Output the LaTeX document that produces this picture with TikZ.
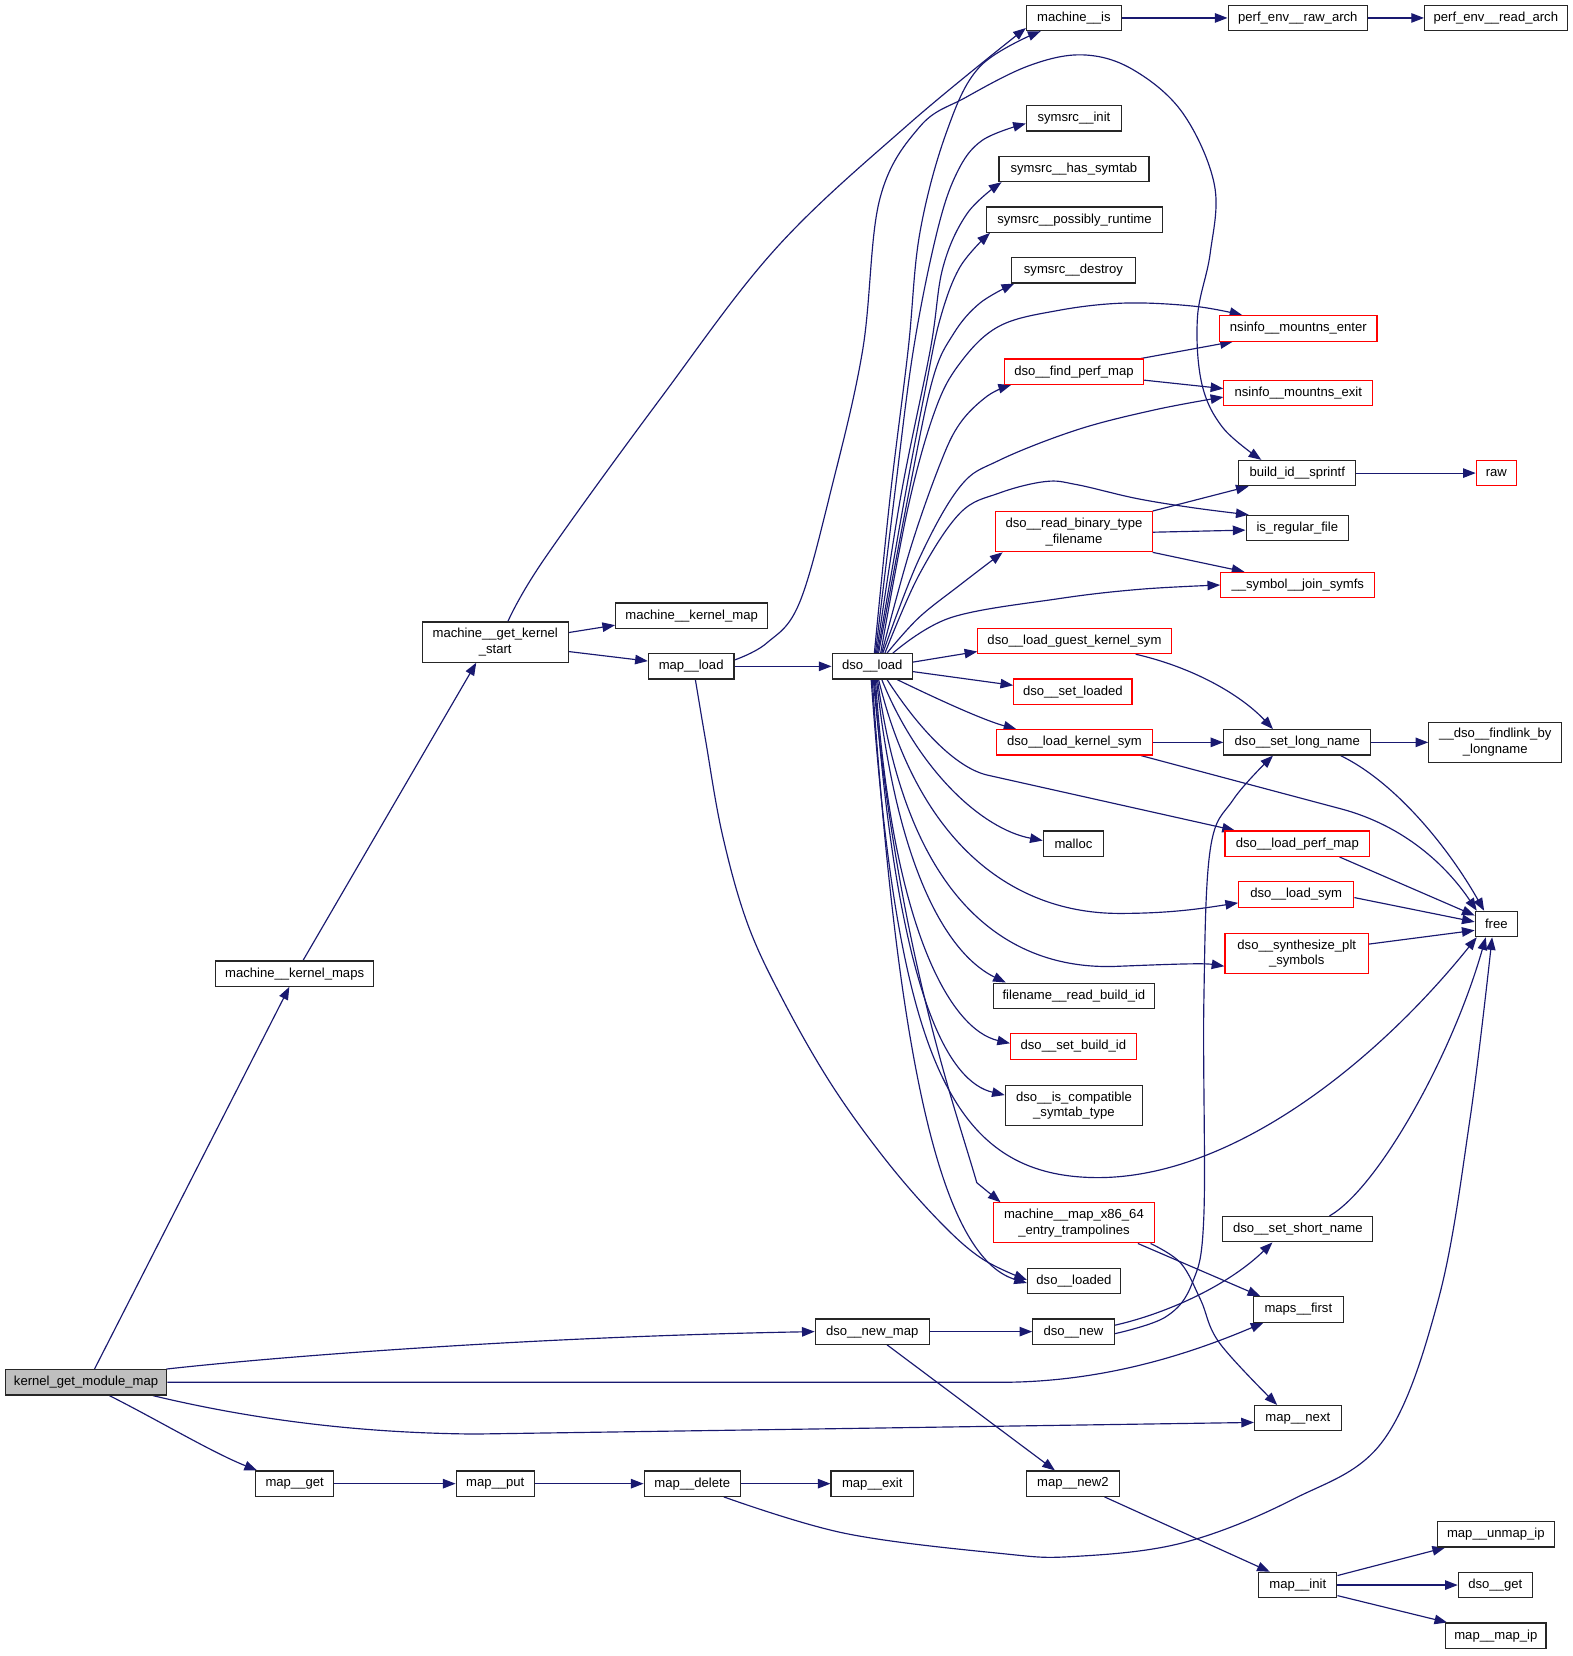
\documentclass[tikz,border=0pt]{standalone}
\usepackage{fontspec}
\setmainfont{Liberation Sans}
\usetikzlibrary{arrows.meta,calc,backgrounds}
\definecolor{edgecol}{HTML}{191970}
\definecolor{kgray}{HTML}{BFBFBF}
\begin{document}
\begin{tikzpicture}[x=1pt,y=-1pt,
  box/.style={draw=black!85,line width=1.1pt,fill=white,rectangle,inner sep=0pt,minimum height=24pt,align=center,font=\fontsize{12.4}{15}\selectfont},
  rbox/.style={box,draw=red},
  tall/.style={minimum height=38pt},
  call/.style={draw=edgecol,line width=1.1pt,-{Triangle[length=12pt,width=9pt]}}]
\useasboundingbox (0,0) rectangle (1489.6,1568.2);
% nodes
\node[box,minimum width=90pt] (mis) at (1017,17) {machine\_\_is};
\node[box,minimum width=132pt] (pera) at (1229,17) {perf\_env\_\_raw\_arch};
\node[box,minimum width=135pt] (perd) at (1416.5,17) {perf\_env\_\_read\_arch};
\node[box,minimum width=90pt] (sinit) at (1017,112) {symsrc\_\_init};
\node[box,minimum width=142pt] (shas) at (1017,160) {symsrc\_\_has\_symtab};
\node[box,minimum width=167pt] (sposs) at (1017.5,208) {symsrc\_\_possibly\_runtime};
\node[box,minimum width=117pt] (sdes) at (1016.5,256) {symsrc\_\_destroy};
\node[rbox,minimum width=149pt] (nsen) at (1229.5,311) {nsinfo\_\_mountns\_enter};
\node[rbox,minimum width=132pt] (dfpm) at (1017,352) {dso\_\_find\_perf\_map};
\node[rbox,minimum width=141pt] (nsex) at (1229.5,372) {nsinfo\_\_mountns\_exit};
\node[box,minimum width=111pt] (bid) at (1228.5,448) {build\_id\_\_sprintf};
\node[rbox,minimum width=38pt] (raw) at (1417,448) {raw};
\node[rbox,tall,minimum width=148pt] (drbtf) at (1017,503.5) {dso\_\_read\_binary\_type\\\_filename};
\node[box,minimum width=97pt] (irf) at (1228.5,500) {is\_regular\_file};
\node[rbox,minimum width=146pt] (sjs) at (1229,554) {\_\_symbol\_\_join\_symfs};
\node[box,minimum width=144pt] (mkmap) at (655,583) {machine\_\_kernel\_map};
\node[box,tall,minimum width=138pt] (mgks) at (469,608) {machine\_\_get\_kernel\\\_start};
\node[box,minimum width=81pt] (mload) at (654.5,631) {map\_\_load};
\node[box,minimum width=76pt] (dload) at (826,631) {dso\_\_load};
\node[rbox,minimum width=183pt] (dlgks) at (1017.5,607) {dso\_\_load\_guest\_kernel\_sym};
\node[rbox,minimum width=112pt] (dsl) at (1016,655) {dso\_\_set\_loaded};
\node[rbox,minimum width=147pt] (dlks) at (1017.5,703) {dso\_\_load\_kernel\_sym};
\node[box,minimum width=139pt] (dsln) at (1228.5,703) {dso\_\_set\_long\_name};
\node[box,tall,minimum width=126pt] (dfl) at (1416,703) {\_\_dso\_\_findlink\_by\\\_longname};
\node[box,minimum width=57pt] (malloc) at (1016.5,799) {malloc};
\node[rbox,minimum width=137pt] (dlpm) at (1228.5,799) {dso\_\_load\_perf\_map};
\node[rbox,minimum width=109pt] (dls) at (1227.5,847) {dso\_\_load\_sym};
\node[box,minimum width=40pt] (free) at (1417,875) {free};
\node[rbox,tall,minimum width=136pt] (dspl) at (1228,903) {dso\_\_synthesize\_plt\\\_symbols};
\node[box,minimum width=152pt] (frbi) at (1017,943) {filename\_\_read\_build\_id};
\node[rbox,minimum width=119pt] (dsbi) at (1016.5,991) {dso\_\_set\_build\_id};
\node[box,tall,minimum width=130pt] (dict) at (1017,1047) {dso\_\_is\_compatible\\\_symtab\_type};
\node[rbox,tall,minimum width=152pt] (mmx) at (1017,1158) {machine\_\_map\_x86\_64\\\_entry\_trampolines};
\node[box,minimum width=142pt] (dssn) at (1229,1164) {dso\_\_set\_short\_name};
\node[box,minimum width=88pt] (dlod) at (1017,1213) {dso\_\_loaded};
\node[box,minimum width=85pt] (mfirst) at (1229.5,1240) {maps\_\_first};
\node[box,minimum width=108pt] (dnm) at (826,1261) {dso\_\_new\_map};
\node[box,minimum width=77pt] (dnew) at (1016.5,1261) {dso\_\_new};
\node[box,fill=kgray,minimum width=153pt] (kgmm) at (81.5,1309) {kernel\_get\_module\_map};
\node[box,minimum width=82pt] (mnext) at (1229,1343) {map\_\_next};
\node[box,minimum width=74pt] (mget) at (279,1405) {map\_\_get};
\node[box,minimum width=74pt] (mput) at (469,1405) {map\_\_put};
\node[box,minimum width=91pt] (mdel) at (655.5,1405) {map\_\_delete};
\node[box,minimum width=78pt] (mexit) at (826,1405) {map\_\_exit};
\node[box,minimum width=88pt] (mnew2) at (1016,1405) {map\_\_new2};
\node[box,minimum width=111pt] (munmap) at (1416.5,1453) {map\_\_unmap\_ip};
\node[box,minimum width=74pt] (minit) at (1229,1501) {map\_\_init};
\node[box,minimum width=70pt] (dget) at (1416,1501) {dso\_\_get};
\node[box,minimum width=95pt] (mmap) at (1416.5,1549) {map\_\_map\_ip};
\node[box,minimum width=150pt] (mkmaps) at (279,922) {machine\_\_kernel\_maps};
% helper coordinates
\coordinate (a1) at ($(mgks.north)+(12,0)$);
\coordinate (a2) at ($(mis.south west)+(0,-3)$);
\coordinate (b1) at ($(mload.east)+(0,-6)$);
\coordinate (b2) at ($(bid.north west)+(22,0)$);
\coordinate (c1) at ($(mload.south)+(4,0)$);
\coordinate (c2) at ($(dlod.west)+(0,-1)$);
\coordinate (s1) at ($(dload.north)+(2,0)$);
\coordinate (e1) at ($(mis.south west)+(14,0)$);
\coordinate (s2) at ($(dload.north)+(3,0)$);
\coordinate (e2) at ($(sinit.west)+(0,5)$);
\coordinate (s3) at ($(dload.north)+(4,0)$);
\coordinate (e3) at ($(shas.south west)+(3,0)$);
\coordinate (s4) at ($(dload.north)+(5,0)$);
\coordinate (e4) at ($(sposs.south west)+(4,0)$);
\coordinate (s5) at ($(dload.north)+(6,0)$);
\coordinate (e5) at ($(sdes.south west)+(3,0)$);
\coordinate (s6) at ($(dload.north)+(8,0)$);
\coordinate (e6) at ($(nsen.north west)+(22,0)$);
\coordinate (s7) at ($(dload.north)+(9,0)$);
\coordinate (e7) at ($(dfpm.south west)+(7,0)$);
\coordinate (s8) at ($(dload.north)+(10,0)$);
\coordinate (e8) at ($(nsex.west)+(0,4)$);
\coordinate (s9) at ($(dload.north)+(12,0)$);
\coordinate (e9) at ($(irf.north west)+(3,0)$);
\coordinate (s10) at ($(dload.north)+(14,0)$);
\coordinate (e10) at ($(drbtf.south west)+(7,0)$);
\coordinate (s11) at ($(dload.north east)+(-19,0)$);
\coordinate (f1) at ($(mdel.south)+(30,0)$);
\coordinate (f2) at ($(free.south)+(-4,0)$);
\coordinate (g1) at ($(dnew.east)+(0,2)$);
\coordinate (g2) at ($(dsln.south)+(-23,0)$);
\coordinate (h1) at ($(mmx.south east)+(-4,0)$);
\coordinate (h2) at ($(mnext.north west)+(22,0)$);
\begin{scope}[on background layer]
\fill[white] (0,0) rectangle (1489.6,1568.2);
% kernel_get_module_map
\draw[call] ($(kgmm.north)+(8,0)$) -- ($(mkmaps.south)+(-5,0)$);
\draw[call] ($(kgmm.north east)+(-1,0)$) .. controls (260,1285) and (500,1266) .. (dnm.west);
\draw[call] (kgmm.east) -- (947,1309) .. controls (1040,1309) and (1120,1285) .. ($(mfirst.south west)+(10,0)$);
\draw[call] ($(kgmm.south east)+(-14,0)$) .. controls (230,1342) and (330,1357) .. (450,1358) -- ($(mnext.west)+(0,4)$);
\draw[call] ($(kgmm.south)+(22,0)$) .. controls (150,1345) and (200,1375) .. ($(mget.north west)+(2,0)$);
% machine__kernel_maps / get_kernel_start
\draw[call] ($(mkmaps.north)+(8,0)$) -- ($(mgks.south)+(-18,0)$);
\draw[call] plot[smooth,tension=0.6] coordinates {(a1) (515,530) (625,378) (735,235) (860,118) (a2)};
\draw[call] ($(mgks.east)+(0,-9)$) -- ($(mkmap.west)+(0,9)$);
\draw[call] ($(mgks.east)+(0,9)$) -- ($(mload.west)+(0,-5)$);
% map__load
\draw[call] (mload.east) -- (dload.west);
\draw[call] plot[smooth,tension=0.6] coordinates {(b1) (726,609) (757,571) (788,460) (817,331) (833,189) (871,120) (915,92) (975,62) (1026,52) (1073,66) (1120,107) (1150,175) (1146,240) (1134,300) (1138,363) (1158,405) (b2)};
\draw[call] plot[smooth,tension=0.6] coordinates {(c1) (668,700) (684,790) (708,875) (742,948) (788,1028) (840,1100) (890,1157) (930,1192) (c2)};
% dso__load upward
\draw[call] plot[smooth,tension=0.6] coordinates {(s1) (843,470) (860,331) (871,221) (896,126) (928,63) (e1)};
\draw[call] plot[smooth,tension=0.6] coordinates {(s2) (847,470) (865,331) (887,221) (906,164) (930,133) (e2)};
\draw[call] plot[smooth,tension=0.6] coordinates {(s3) (853,470) (881,331) (893,253) (916,202) (e3)};
\draw[call] plot[smooth,tension=0.6] coordinates {(s4) (857,470) (876,370) (890,303) (909,253) (e4)};
\draw[call] plot[smooth,tension=0.6] coordinates {(s5) (860,470) (883,360) (903,316) (928,287) (e5)};
\draw[call] plot[smooth,tension=0.6] coordinates {(s6) (860,480) (885,390) (909,344) (946,309) (1002,294) (1065,287) (1131,290) (e6)};
\draw[call] plot[smooth,tension=0.6] coordinates {(s7) (862,520) (890,440) (909,401) (935,375) (e7)};
\draw[call] plot[smooth,tension=0.6] coordinates {(s8) (870,530) (909,461) (946,436) (1020,407) (1094,388) (e8)};
\draw[call] plot[smooth,tension=0.6] coordinates {(s9) (870,545) (909,486) (946,467) (990,456) (1020,459) (1076,472) (1131,481) (e9)};
\draw[call] plot[smooth,tension=0.6] coordinates {(s10) (870,585) (909,554) (e10)};
\draw[call] plot[smooth,tension=0.6] coordinates {(s11) (900,585) (1002,567) (1080,558) (sjs.west)};
% dso__load right
\draw[call] ($(dload.east)+(0,-4)$) -- ($(dlgks.west)+(0,10)$);
\draw[call] ($(dload.east)+(0,5)$) -- ($(dsl.west)+(0,-6)$);
\draw[call] ($(dload.south east)+(-15,0)$) .. controls (900,668) and (935,683) .. ($(dlks.north west)+(19,0)$);
% dso__load downward
\draw[call] ($(dload.south)+(14,0)$) .. controls (870,690) and (905,727) .. (935,734) -- ($(dlpm.north west)+(10,0)$);
\draw[call] ($(dload.south)+(9,0)$) .. controls (870,730) and (930,785) .. ($(malloc.west)+(0,-3)$);
\draw[call] ($(dload.south)+(6,0)$) .. controls (870,800) and (960,865) .. (1060,865) .. controls (1110,865) and (1140,860) .. ($(dls.west)+(0,8)$);
\draw[call] ($(dload.south)+(5,0)$) .. controls (860,860) and (960,920) .. (1060,915) .. controls (1110,913) and (1140,912) .. ($(dspl.west)+(0,12)$);
\draw[call] ($(dload.south)+(4,0)$) .. controls (850,830) and (900,905) .. ($(frbi.north west)+(12,0)$);
\draw[call] ($(dload.south)+(3,0)$) .. controls (845,880) and (900,975) .. ($(dsbi.west)+(0,-3)$);
\draw[call] ($(dload.south)+(2,0)$) .. controls (850,950) and (900,1025) .. ($(dict.west)+(0,-10)$);
\draw[call] ($(dload.south)+(1,0)$) .. controls (850,900) and (905,1050) .. (925,1120) -- ($(mmx.north west)+(7,0)$);
\draw[call] (dload.south) .. controls (850,1000) and (890,1190) .. ($(dlod.west)+(0,2)$);
\draw[call] ($(dload.south)+(-1,0)$) .. controls (850,1000) and (900,1110) .. (1031,1115) .. controls (1160,1120) and (1300,1010) .. ($(free.south west)+(2,0)$);
% second level
\draw[call] ($(dfpm.north east)+(-3,0)$) -- ($(nsen.south west)+(13,0)$);
\draw[call] ($(dfpm.east)+(0,8)$) -- ($(nsex.west)+(0,-4)$);
\draw[call] (drbtf.north east) -- ($(bid.south west)+(10,0)$);
\draw[call] ($(drbtf.east)+(0,0.5)$) -- ($(irf.west)+(0,2)$);
\draw[call] (drbtf.south east) -- ($(sjs.north west)+(23,0)$);
\draw[call] (bid.east) -- (raw.west);
\draw[call] (mis.east) -- (pera.west);
\draw[call] (pera.east) -- (perd.west);
\draw[call] ($(dlgks.south)+(58,0)$) .. controls (1130,632) and (1175,658) .. ($(dsln.north)+(-23,0)$);
\draw[call] (dlks.east) -- (dsln.west);
\draw[call] ($(dlks.south east)+(-11,0)$) -- (1270,766) .. controls (1330,782) and (1370,820) .. ($(free.north west)+(2,0)$);
\draw[call] (dsln.east) -- (dfl.west);
\draw[call] ($(dsln.south)+(41,0)$) .. controls (1320,740) and (1370,800) .. ($(free.north west)+(9,0)$);
\draw[call] ($(dlpm.south)+(40,0)$) -- ($(free.west)+(0,-8)$);
\draw[call] ($(dls.east)+(0,3)$) -- ($(free.west)+(0,-2)$);
\draw[call] ($(dspl.east)+(0,-9)$) -- ($(free.west)+(0,6)$);
\draw[call] ($(dssn.north)+(30,0)$) .. controls (1305,1125) and (1375,1000) .. ($(free.south)+(-10,0)$);
\draw[call] plot[smooth,tension=0.6] coordinates {(f1) (800,1452) (947,1471) (1016,1474) (1120,1461) (1224,1420) (1310,1364) (1362,1231) (1392,1060) (f2)};
\draw[call] plot[smooth,tension=0.6] coordinates {(g1) (1104,1247) (1129,1215) (1140,1152) (1140,950) (1146,805) (1168,757) (g2)};
\draw[call] ($(dnew.east)+(0,-6)$) .. controls (1100,1245) and (1160,1220) .. ($(dssn.south)+(-24,0)$);
\draw[call] (dnm.east) -- (dnew.west);
\draw[call] ($(dnm.south)+(14,0)$) -- ($(mnew2.north)+(-17,0)$);
\draw[call] ($(mmx.south east)+(-16,0)$) -- ($(mfirst.north west)+(7,0)$);
\draw[call] plot[smooth,tension=0.6] coordinates {(h1) (1118,1196) (1137,1231) (1155,1272) (h2)};
\draw[call] (mget.east) -- (mput.west);
\draw[call] (mput.east) -- (mdel.west);
\draw[call] (mdel.east) -- (mexit.west);
\draw[call] ($(mnew2.south)+(30,0)$) -- ($(minit.north west)+(11,0)$);
\draw[call] ($(minit.east)+(0,-9)$) -- ($(munmap.south west)+(8,0)$);
\draw[call] (minit.east) -- (dget.west);
\draw[call] ($(minit.east)+(0,10)$) -- ($(mmap.north west)+(2,0)$);
\end{scope}
\end{tikzpicture}
\end{document}
